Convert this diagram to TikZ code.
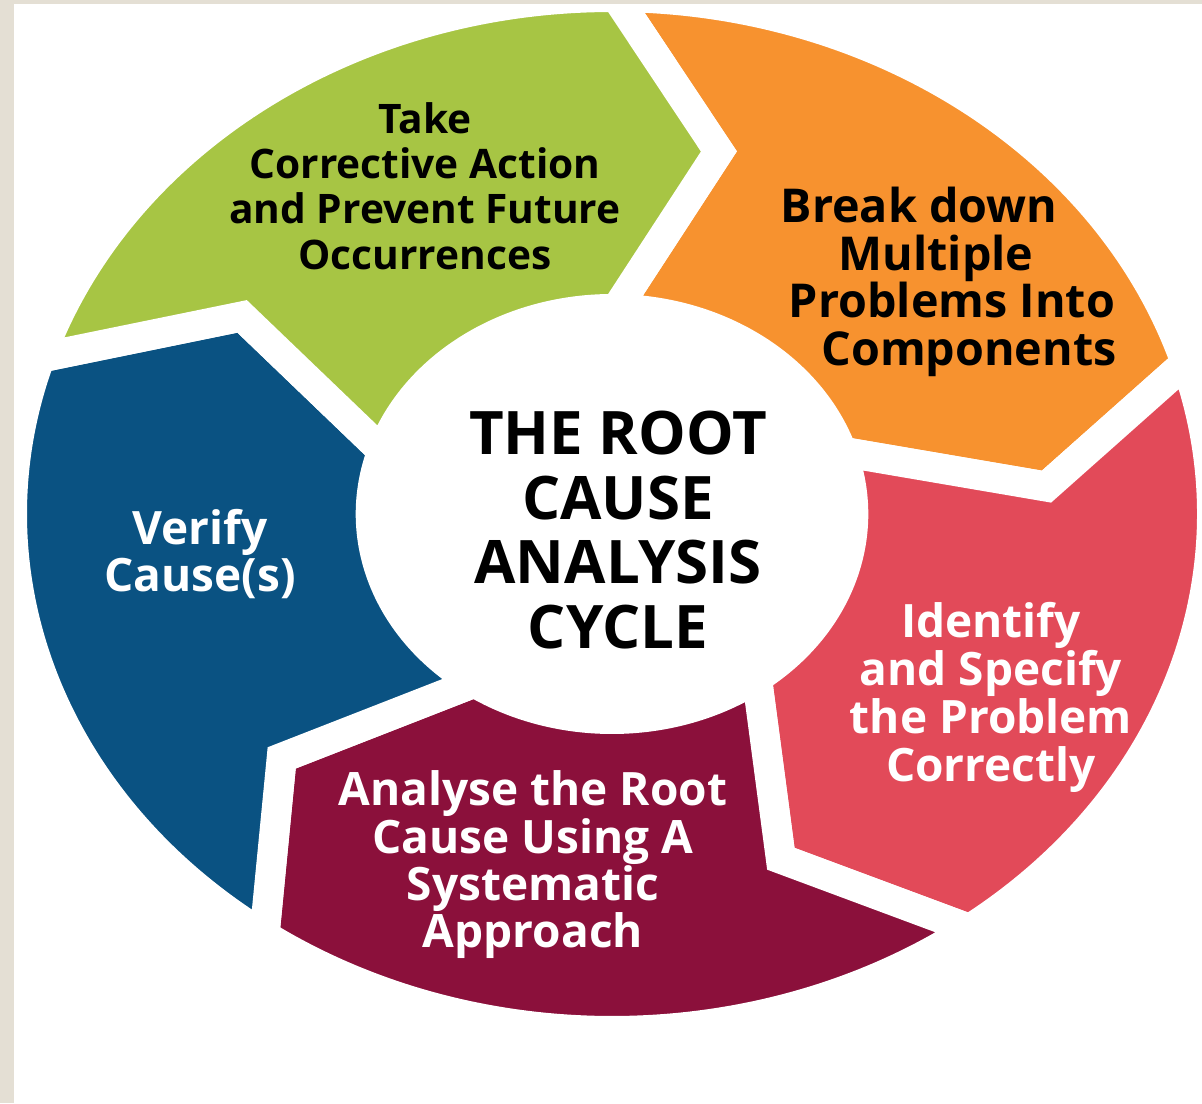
\documentclass[tikz,border=0pt]{standalone}
\usepackage{fontspec}
\setmainfont{Open Sans}

\tikzset{every picture/.style={line width=0.75pt}}
\tikzset{
segment/.style={draw=white, line width=22.5pt, line join=miter},
cyclelabel/.style={anchor=center, inner sep=0.75pt, align=center}}

\begin{document}
\begin{tikzpicture}[x=0.75pt,y=0.75pt,yscale=-1,xscale=1]
\useasboundingbox (0,0) rectangle (1202,1103);
\fill [color={rgb, 255:red, 255; green, 255; blue, 255 }] (0,0) rectangle (1202,1103);

\begin{scope}[shift={(612,514)}]
%Shape: Ring Segment (orange)
\draw [segment][fill={rgb, 255:red, 247; green, 146; blue, 47 }] (-89.6:600 and 517) arc[start angle=-89.6, end angle=-17.0, x radius=600, y radius=517] -- (-4.2:435.7 and 374) -- (-17.7:241.3 and 205) arc[start angle=-17.7, end angle=-89.0, x radius=241.3, y radius=205] -- (-75.8:435.7 and 374) -- cycle ;
%Shape: Ring Segment (red)
\draw [segment][fill={rgb, 255:red, 226; green, 74; blue, 89 }] (-17.0:600 and 517) arc[start angle=-17.0, end angle=53.4, x radius=600, y radius=517] -- (67.2:435.7 and 374) -- (53.1:241.3 and 205) arc[start angle=53.1, end angle=-17.7, x radius=241.3, y radius=205] -- (-4.2:435.7 and 374) -- cycle ;
%Shape: Ring Segment (maroon)
\draw [segment][fill={rgb, 255:red, 139; green, 16; blue, 59 }] (53.4:600 and 517) arc[start angle=53.4, end angle=125.4, x radius=600, y radius=517] -- (139.3:435.7 and 374) -- (124.7:241.3 and 205) arc[start angle=124.7, end angle=53.1, x radius=241.3, y radius=205] -- (67.2:435.7 and 374) -- cycle ;
%Shape: Ring Segment (blue)
\draw [segment][fill={rgb, 255:red, 10; green, 82; blue, 130 }] (125.4:600 and 517) arc[start angle=125.4, end angle=197.6, x radius=600, y radius=517] -- (211.9:435.7 and 374) -- (197.9:241.3 and 205) arc[start angle=197.9, end angle=124.7, x radius=241.3, y radius=205] -- (139.3:435.7 and 374) -- cycle ;
%Shape: Ring Segment (green)
\draw [segment][fill={rgb, 255:red, 167; green, 197; blue, 68 }] (197.6:600 and 517) arc[start angle=197.6, end angle=270.4, x radius=600, y radius=517] -- (284.2:435.7 and 374) -- (271:241.3 and 205) arc[start angle=271, end angle=197.9, x radius=241.3, y radius=205] -- (211.9:435.7 and 374) -- cycle ;
\end{scope}

%Shape: Frame
\fill [color={rgb, 255:red, 228; green, 223; blue, 212 }] (0,0) rectangle (14,1103) ;
\fill [color={rgb, 255:red, 228; green, 223; blue, 212 }] (0,0) rectangle (1202,4) ;

% Text Node
\draw (618,530) node [anchor=center][inner sep=0.75pt][align=center, font=\bfseries\fontsize{45}{48.5}\selectfont] (title) {THE ROOT\\CAUSE\\ANALYSIS\\CYCLE};
% Text Node
\draw (425,186) node [cyclelabel, font=\bfseries\fontsize{30.5}{34}\selectfont] (take) {Take\\Corrective Action\\and Prevent Future\\Occurrences};
% Text Node
\draw (944,282) node [cyclelabel, font=\bfseries\fontsize{35}{35.8}\selectfont] (breakdown) {Break down\rule{37.5pt}{0pt}\\Multiple\rule{12pt}{0pt}\\\rule{12pt}{0pt}Problems Into\\\rule{37.5pt}{0pt}Components};
% Text Node
\draw (991,697) node [cyclelabel, color=white, font=\bfseries\fontsize{34.5}{36}\selectfont] (identify) {Identify\\and Specify\\the Problem\\Correctly};
% Text Node
\draw (533,865) node [cyclelabel, color=white, font=\bfseries\fontsize{34.5}{35.5}\selectfont] (analyse) {Analyse the Root\\Cause Using A\\Systematic\\Approach};
% Text Node
\draw (200,554) node [cyclelabel, color=white, font=\bfseries\fontsize{34.5}{35}\selectfont] (verify) {Verify\\Cause(s)};

\end{tikzpicture}
\end{document}
